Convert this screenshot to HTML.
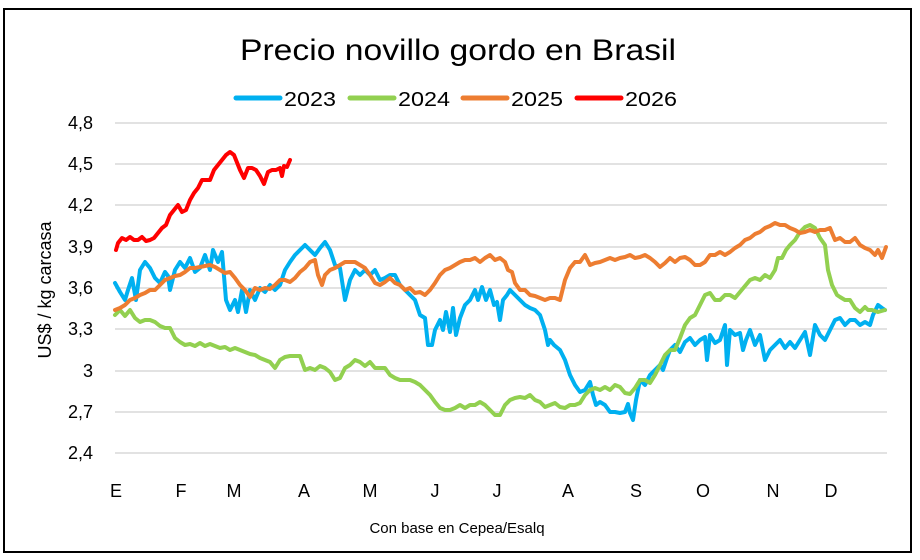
<!DOCTYPE html>
<html><head><meta charset="utf-8"><style>body{margin:0;background:#fff}svg{display:block}text{font-family:"Liberation Sans",sans-serif;fill:#000}</style></head><body>
<svg width="920" height="560" viewBox="0 0 920 560" xmlns="http://www.w3.org/2000/svg">
<rect x="4" y="9" width="907" height="543" fill="#fff" stroke="#000" stroke-width="2"/>
<text x="240" y="60" font-size="30" textLength="436" lengthAdjust="spacingAndGlyphs">Precio novillo gordo en Brasil</text>
<g stroke-width="5" stroke-linecap="round">
<line x1="236" y1="98" x2="280" y2="98" stroke="#00B0F0"/>
<line x1="350" y1="98" x2="394" y2="98" stroke="#92D050"/>
<line x1="463" y1="98" x2="507" y2="98" stroke="#ED7D31"/>
<line x1="577" y1="98" x2="621" y2="98" stroke="#FF0000"/>
</g>
<g font-size="20"><text x="284" y="106" textLength="52" lengthAdjust="spacingAndGlyphs">2023</text><text x="398" y="106" textLength="52" lengthAdjust="spacingAndGlyphs">2024</text><text x="511" y="106" textLength="52" lengthAdjust="spacingAndGlyphs">2025</text><text x="625" y="106" textLength="52" lengthAdjust="spacingAndGlyphs">2026</text></g>
<g stroke="#d9d9d9" stroke-width="1.5">
<line x1="115" x2="887" y1="123" y2="123"/><line x1="115" x2="887" y1="164" y2="164"/><line x1="115" x2="887" y1="205" y2="205"/><line x1="115" x2="887" y1="247" y2="247"/><line x1="115" x2="887" y1="288" y2="288"/><line x1="115" x2="887" y1="329" y2="329"/><line x1="115" x2="887" y1="371" y2="371"/><line x1="115" x2="887" y1="412" y2="412"/><line x1="115" x2="887" y1="453" y2="453"/>
</g>
<g font-size="18" text-anchor="end">
<text x="93" y="129">4,8</text><text x="93" y="170">4,5</text><text x="93" y="211">4,2</text><text x="93" y="253">3,9</text><text x="93" y="294">3,6</text><text x="93" y="335">3,3</text><text x="93" y="377">3</text><text x="93" y="418">2,7</text><text x="93" y="459">2,4</text>
</g>
<text transform="translate(51,290) rotate(-90)" font-size="18" text-anchor="middle">US$ / kg carcasa</text>
<g font-size="18" text-anchor="middle">
<text x="116" y="497">E</text><text x="181" y="497">F</text><text x="234" y="497">M</text><text x="304" y="497">A</text><text x="370" y="497">M</text><text x="435" y="497">J</text><text x="497" y="497">J</text><text x="568" y="497">A</text><text x="636" y="497">S</text><text x="703" y="497">O</text><text x="773" y="497">N</text><text x="831" y="497">D</text>
</g>
<text x="457" y="533" font-size="15" text-anchor="middle">Con base en Cepea/Esalq</text>
<g fill="none" stroke-width="4" stroke-linejoin="round" stroke-linecap="round">
<polyline stroke="#00B0F0" points="115,283 120,292 125,300 128,290 132,278 136,300 140,270 145,262 150,268 155,278 160,283 165,272 168,276 170,290 175,270 180,262 185,268 190,258 195,272 200,268 205,255 210,270 213,250 218,262 222,252 226,300 230,310 235,300 238,312 242,290 246,312 250,290 255,300 260,288 265,292 270,285 275,290 280,285 285,270 290,262 295,255 300,250 305,245 310,250 315,255 320,248 325,242 330,250 335,265 340,268 345,300 350,280 355,270 360,275 365,270 370,275 375,270 380,280 385,278 390,275 395,275 400,285 405,290 410,295 415,300 420,315 425,318 428,345 432,345 435,330 440,320 443,330 446,312 450,332 453,308 456,335 460,318 465,305 470,300 475,290 478,300 482,287 486,300 490,290 494,305 497,302 500,320 503,300 507,295 510,290 515,295 520,300 525,305 530,308 535,310 540,315 545,330 548,345 550,340 554,345 560,350 565,360 570,375 575,385 580,392 585,390 590,382 593,395 596,405 600,402 605,405 610,412 615,412 620,413 625,412 628,404 630,413 633,420 636,400 640,380 645,385 650,375 655,370 660,365 663,370 667,358 670,350 675,345 680,352 685,342 690,338 695,345 700,340 705,337 707,360 710,335 715,343 720,340 725,325 727,365 730,330 735,335 740,333 743,350 746,340 750,330 755,345 760,335 765,360 770,350 775,345 780,340 785,348 790,342 795,348 800,340 805,332 810,355 815,325 820,335 825,340 830,330 835,320 840,318 845,325 850,320 855,320 860,325 865,322 870,325 873,315 878,305 882,308 885,310"/>
<polyline stroke="#92D050" points="115,315 120,310 125,316 130,310 135,318 140,322 145,320 150,320 155,322 160,326 165,328 170,328 175,338 180,342 185,345 190,344 195,346 200,343 205,346 210,344 215,346 220,348 225,347 230,350 235,348 240,350 245,352 250,354 255,355 260,358 265,360 270,362 275,368 280,360 285,357 290,356 300,356 305,370 310,368 315,370 320,366 325,368 330,372 335,380 340,378 345,368 350,365 355,360 360,362 365,366 370,362 375,368 380,368 385,368 390,375 395,378 400,380 405,380 410,380 415,382 420,385 425,390 430,395 435,402 440,408 445,410 450,410 455,408 460,405 465,408 470,405 475,405 480,402 485,405 490,410 495,415 500,415 505,405 510,400 515,398 520,397 525,398 530,395 535,400 540,402 545,407 550,405 555,403 560,407 565,408 570,405 575,405 580,403 585,395 590,390 595,388 600,390 605,387 610,390 615,385 620,387 625,393 630,394 635,388 640,380 645,380 650,383 655,375 660,365 665,355 670,350 675,350 680,338 685,325 690,318 695,315 700,305 705,295 710,293 715,300 720,300 725,295 730,295 735,298 740,292 745,286 750,280 755,278 760,280 765,275 770,278 775,270 778,258 782,258 786,250 790,245 795,240 800,232 805,227 810,225 815,228 820,238 825,245 828,270 832,285 837,295 840,297 845,300 850,300 855,308 860,312 865,307 868,310 872,310 878,312 885,310"/>
<polyline stroke="#ED7D31" points="115,310 120,308 125,305 130,300 135,298 140,295 145,293 150,290 155,290 160,285 165,280 170,278 175,276 180,275 185,272 190,268 195,268 200,267 205,266 210,265 215,267 220,270 225,273 230,272 235,278 240,285 245,290 250,297 255,288 260,290 265,288 270,289 275,285 280,280 285,280 290,282 295,278 300,272 305,268 310,262 315,260 318,275 322,285 325,275 330,270 335,268 340,265 345,262 350,262 355,262 360,265 365,268 370,275 375,283 380,285 385,282 390,278 395,283 400,285 405,290 410,288 415,293 420,292 425,295 430,290 435,283 440,275 445,270 450,268 455,265 460,262 465,260 470,260 475,258 480,262 485,258 490,255 495,260 500,258 505,262 508,270 512,272 515,283 520,290 525,290 530,295 535,296 540,298 545,300 550,298 555,298 560,300 565,280 570,268 575,262 580,262 585,255 590,265 595,263 600,262 605,260 610,258 615,260 620,258 625,257 630,255 635,258 640,257 645,255 650,258 655,262 660,267 665,263 670,258 675,262 680,258 685,257 690,260 695,265 700,265 705,262 710,255 715,255 720,252 725,255 730,252 735,248 740,245 745,240 750,238 755,234 760,232 765,228 770,226 775,223 780,225 785,225 790,228 795,230 800,233 805,232 810,230 815,232 820,230 825,230 830,228 835,240 840,238 845,242 850,242 855,238 860,245 865,248 870,250 875,255 878,250 882,258 886,247"/>
<polyline stroke="#FF0000" points="116,250 118,243 122,238 126,240 130,237 134,240 138,240 142,237 146,241 150,240 154,238 158,233 162,228 166,225 170,215 174,210 178,205 182,212 186,210 190,200 194,193 198,188 202,180 206,180 210,180 214,170 218,165 222,160 226,155 230,152 234,155 236,160 240,170 244,178 248,168 252,168 256,170 260,176 264,184 268,172 272,170 276,170 280,168 282,176 284,166 287,167 290,160"/>
</g>
</svg>
</body></html>
